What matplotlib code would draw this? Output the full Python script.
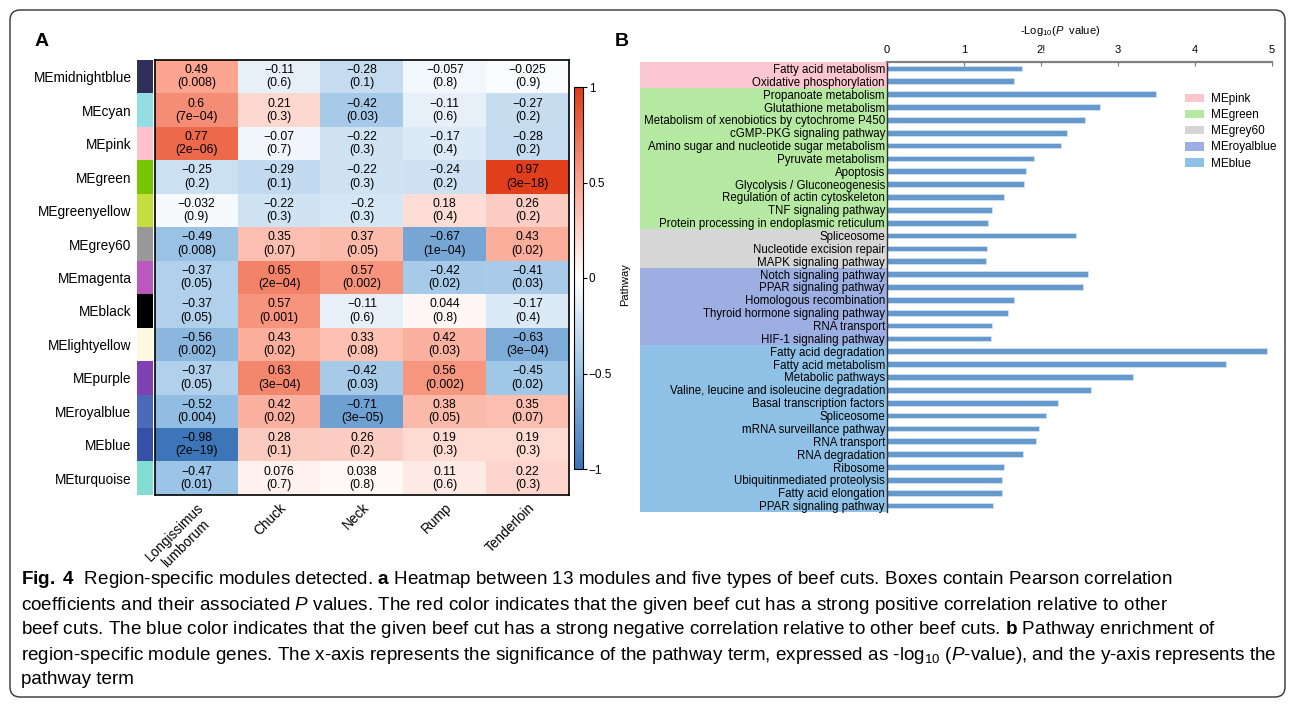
import numpy as np
import matplotlib
matplotlib.use("Agg")
import matplotlib.pyplot as plt
from matplotlib.colors import LinearSegmentedColormap, ListedColormap
from matplotlib.patches import Rectangle, FancyBboxPatch, Patch
from matplotlib.transforms import blended_transform_factory, IdentityTransform

plt.rcParams['font.family'] = ['Liberation Sans', 'DejaVu Sans']
plt.rcParams['mathtext.fontset'] = 'custom'
plt.rcParams['mathtext.rm'] = 'Liberation Sans'
plt.rcParams['mathtext.it'] = 'Liberation Sans:italic'
plt.rcParams['mathtext.bf'] = 'Liberation Sans:bold'

# ---- panel A data (module-trait heatmap) ----
modules = ['MEmidnightblue', 'MEcyan', 'MEpink', 'MEgreen', 'MEgreenyellow', 'MEgrey60',
           'MEmagenta', 'MEblack', 'MElightyellow', 'MEpurple', 'MEroyalblue', 'MEblue',
           'MEturquoise']
module_colors = ['#302F5B', '#93DDE3', '#FFC0CE', '#77C500', '#C4DF3D', '#999799',
                 '#BA58BE', '#000000', '#FDF9E1', '#8040B4', '#4B6BB9', '#3550A8', '#84DDD3']
cuts = ['Longissimus\nlumborum', 'Chuck', 'Neck', 'Rump', 'Tenderloin']

corr = np.array([
    [0.49, -0.11, -0.28, -0.057, -0.025],
    [0.6, 0.21, -0.42, -0.11, -0.27],
    [0.77, -0.07, -0.22, -0.17, -0.28],
    [-0.25, -0.29, -0.22, -0.24, 0.97],
    [-0.032, -0.22, -0.2, 0.18, 0.26],
    [-0.49, 0.35, 0.37, -0.67, 0.43],
    [-0.37, 0.65, 0.57, -0.42, -0.41],
    [-0.37, 0.57, -0.11, 0.044, -0.17],
    [-0.56, 0.43, 0.33, 0.42, -0.63],
    [-0.37, 0.63, -0.42, 0.56, -0.45],
    [-0.52, 0.42, -0.71, 0.38, 0.35],
    [-0.98, 0.28, 0.26, 0.19, 0.19],
    [-0.47, 0.076, 0.038, 0.11, 0.22],
])
pvals = np.array([
    [0.008, 0.6, 0.1, 0.8, 0.9],
    [7e-04, 0.3, 0.03, 0.6, 0.2],
    [2e-06, 0.7, 0.3, 0.4, 0.2],
    [0.2, 0.1, 0.3, 0.2, 3e-18],
    [0.9, 0.3, 0.3, 0.4, 0.2],
    [0.008, 0.07, 0.05, 1e-04, 0.02],
    [0.05, 2e-04, 0.002, 0.02, 0.03],
    [0.05, 0.001, 0.6, 0.8, 0.4],
    [0.002, 0.02, 0.08, 0.03, 3e-04],
    [0.05, 3e-04, 0.03, 0.002, 0.02],
    [0.004, 0.02, 3e-05, 0.05, 0.07],
    [2e-19, 0.1, 0.2, 0.3, 0.3],
    [0.01, 0.7, 0.8, 0.6, 0.3],
])

# ---- panel B data (pathway enrichment) ----
pathways = [
    'Fatty acid metabolism', 'Oxidative phosphorylation',
    'Propanoate metabolism', 'Glutathione metabolism',
    'Metabolism of xenobiotics by cytochrome P450', 'cGMP-PKG signaling pathway',
    'Amino sugar and nucleotide sugar metabolism', 'Pyruvate metabolism', 'Apoptosis',
    'Glycolysis / Gluconeogenesis', 'Regulation of actin cytoskeleton',
    'TNF signaling pathway', 'Protein processing in endoplasmic reticulum',
    'Spliceosome', 'Nucleotide excision repair', 'MAPK signaling pathway',
    'Notch signaling pathway', 'PPAR signaling pathway', 'Homologous recombination',
    'Thyroid hormone signaling pathway', 'RNA transport', 'HIF-1 signaling pathway',
    'Fatty acid degradation', 'Fatty acid metabolism', 'Metabolic pathways',
    'Valine, leucine and isoleucine degradation', 'Basal transcription factors',
    'Spliceosome', 'mRNA surveillance pathway', 'RNA transport', 'RNA degradation',
    'Ribosome', 'Ubiquitinmediated proteolysis', 'Fatty acid elongation',
    'PPAR signaling pathway',
]
neglogp = [1.75, 1.65,
           3.49, 2.77, 2.57, 2.34, 2.26, 1.91, 1.80, 1.78, 1.52, 1.36, 1.31,
           2.46, 1.30, 1.29,
           2.61, 2.55, 1.65, 1.57, 1.37, 1.35,
           4.93, 4.40, 3.20, 2.65, 2.22, 2.07, 1.97, 1.94, 1.76, 1.52, 1.49, 1.49, 1.38]
group_names = ['MEpink', 'MEgreen', 'MEgrey60', 'MEroyalblue', 'MEblue']
group_sizes = [2, 11, 3, 6, 13]
group_colors = ['#FBC6D0', '#B5E8A0', '#D6D6D6', '#9DAEE3', '#8FC1E6']
xtick_labels = ['0', '1', '2!', '3', '4', '5']

W, H = 1295, 704
fig = plt.figure(figsize=(W / 100, H / 100), dpi=100)

def box(x0, y0, x1, y1):
    # pixel box (from top-left) -> figure fraction rect
    return [x0 / W, 1 - y1 / H, (x1 - x0) / W, (y1 - y0) / H]

# outer rounded frame
fig.patches.append(FancyBboxPatch((10, 7), 1275, 687, boxstyle='round,pad=0,rounding_size=10',
                                  transform=IdentityTransform(), facecolor='none',
                                  edgecolor='#333333', linewidth=1))

# ---------------- A: heatmap ----------------
cmap = LinearSegmentedColormap.from_list(
    'bwr_wgcna', [(0, '#3A74B8'), (0.25, '#97C1E5'), (0.5, '#FFFFFF'),
                  (0.75, '#FBA38E'), (1, '#E03A16')])

ax_strip = fig.add_axes(box(137, 60, 153, 495))
ax_strip.imshow(np.arange(len(modules)).reshape(-1, 1), cmap=ListedColormap(module_colors),
                aspect='auto', interpolation='nearest')
ax_strip.set_xticks([])
ax_strip.set_yticks(range(len(modules)))
ax_strip.set_yticklabels(modules, fontsize=9.8)
ax_strip.tick_params(axis='y', length=0, pad=4)
for s in ax_strip.spines.values():
    s.set_visible(False)

ax_hm = fig.add_axes(box(155, 60, 569, 495))
im = ax_hm.imshow(corr, cmap=cmap, vmin=-1, vmax=1, aspect='auto', interpolation='nearest')
for i in range(corr.shape[0]):
    for j in range(corr.shape[1]):
        p = pvals[i, j]
        ps = f"{p:.0e}" if p < 0.001 else f"{p:.1g}"
        txt = f"{corr[i, j]:.2g}\n({ps})".replace('-', '\u2212')
        ax_hm.text(j, i, txt, ha='center', va='center', fontsize=8.8, linespacing=1.15)
ax_hm.set_yticks([])
ax_hm.set_xticks(range(len(cuts)))
ax_hm.set_xticklabels(cuts, rotation=45, ha='right', rotation_mode='anchor',
                      fontsize=9.8, multialignment='center')
ax_hm.tick_params(axis='x', length=0, pad=4)
for s in ax_hm.spines.values():
    s.set_linewidth(1.2)

cax = fig.add_axes(box(574, 87, 583, 469))
cb = fig.colorbar(im, cax=cax, ticks=[-1, -0.5, 0, 0.5, 1])
cb.ax.set_yticklabels(['\u22121', '\u22120.5', '0', '0.5', '1'])
cb.ax.tick_params(labelsize=8.5, length=3, width=0.8, pad=1)
cb.outline.set_linewidth(0.8)

fig.text(35 / W, 1 - 42 / H, 'A', fontsize=14, fontweight='bold', va='center', ha='left')

# ---------------- B: pathway bars ----------------
ax_b = fig.add_axes(box(887, 62, 1272, 512))
y = np.arange(len(pathways))
ax_b.barh(y, neglogp, height=0.45, color='#6699CC', edgecolor='#D3E2F3', linewidth=0.6)
ax_b.set_ylim(len(pathways) - 0.5, -0.5)
ax_b.set_xlim(0, 5)
ax_b.set_yticks(y)
ax_b.set_yticklabels(pathways, fontsize=8.3)
ax_b.tick_params(axis='y', length=0, pad=1.5)
ax_b.xaxis.tick_top()
ax_b.set_xticks(range(6))
ax_b.set_xticklabels(xtick_labels, fontsize=8)
ax_b.tick_params(axis='x', direction='in', length=3, color='#777777', pad=5)
ax_b.spines['bottom'].set_visible(False)
ax_b.spines['right'].set_visible(False)
ax_b.spines['top'].set_color('#808080')
ax_b.spines['top'].set_linewidth(1.6)
ax_b.spines['left'].set_color('#333333')
ax_b.spines['left'].set_linewidth(1)

# coloured bands behind the pathway names
trans = blended_transform_factory(fig.transFigure, ax_b.transData)
start = 0
for name, n, c in zip(group_names, group_sizes, group_colors):
    ax_b.add_patch(Rectangle((640 / W, start - 0.5), (887 - 640) / W, n, transform=trans,
                             facecolor=c, edgecolor='none', clip_on=False, zorder=0))
    start += n

handles = [Patch(facecolor=c, edgecolor='none') for c in group_colors]
fig.legend(handles, group_names, loc='upper left', bbox_to_anchor=(1185 / W, 1 - 93 / H),
           frameon=False, fontsize=8.5, handlelength=1.6, handleheight=0.75,
           handletextpad=0.6, labelspacing=0.35, borderpad=0, borderaxespad=0)

fig.text(1060 / W, 1 - 31 / H, '-Log$_{10}$($\\it{P}$  value)', fontsize=8,
         ha='center', va='center')
fig.text(625 / W, 1 - 285 / H, 'Pathway', fontsize=8, rotation=90, ha='center', va='center')
fig.text(615 / W, 1 - 42 / H, 'B', fontsize=14, fontweight='bold', va='center', ha='left')

# ---------------- caption ----------------
caption = [
    r'$\bf{Fig.\ 4}$  Region-specific modules detected. $\bf{a}$ Heatmap between 13 modules and five types of beef cuts. Boxes contain Pearson correlation',
    r'coefficients and their associated $\it{P}$ values. The red color indicates that the given beef cut has a strong positive correlation relative to other',
    r'beef cuts. The blue color indicates that the given beef cut has a strong negative correlation relative to other beef cuts. $\bf{b}$ Pathway enrichment of',
    r'region-specific module genes. The x-axis represents the significance of the pathway term, expressed as -log$_{10}$ ($\it{P}$-value), and the y-axis represents the',
    'pathway term',
]
for k, line in enumerate(caption):
    fig.text(21 / W, 1 - (580 + 25 * k) / H, line, fontsize=13.6, ha='left', va='center')

fig.savefig('out.png', dpi=100)
